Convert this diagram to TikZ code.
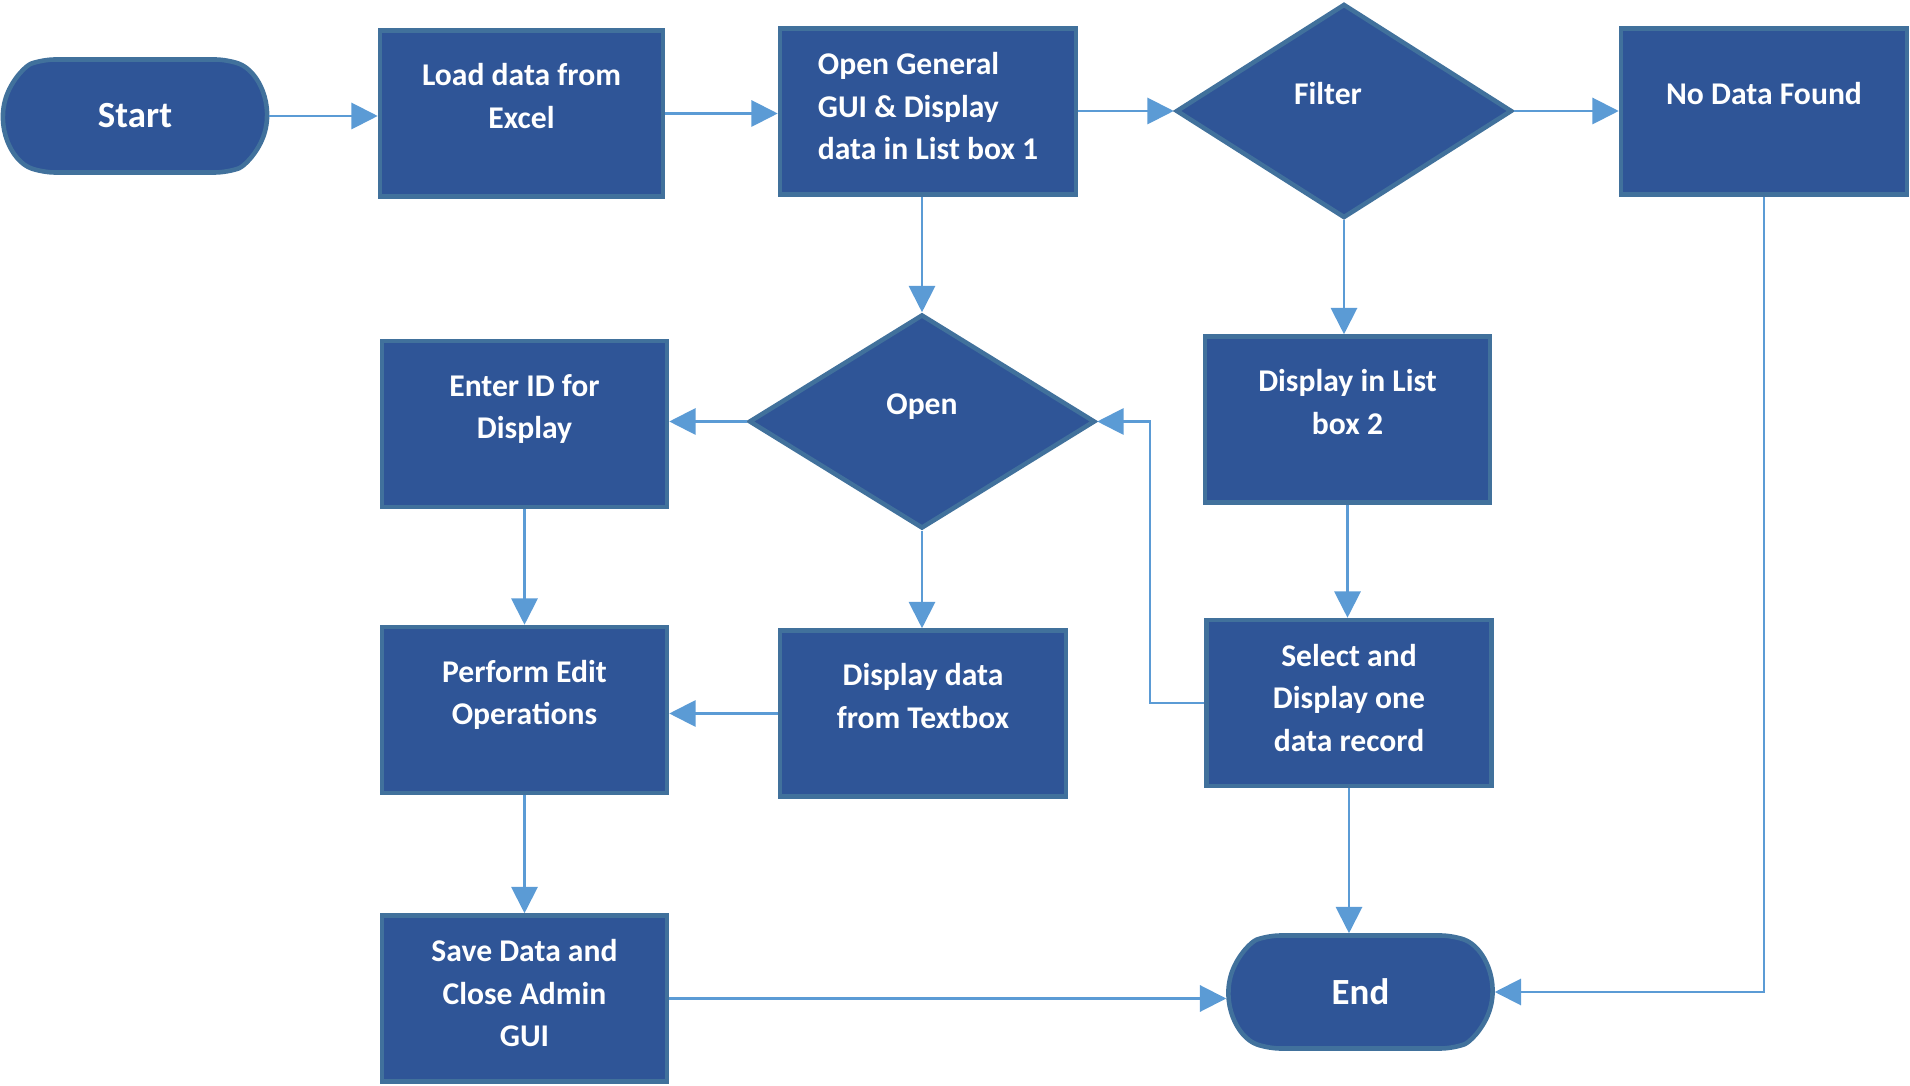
\documentclass[tikz,border=0pt]{standalone}
\usepackage{fontspec}
\setmainfont{Carlito}
\usetikzlibrary{shapes.geometric,shapes.misc,arrows.meta}
\definecolor{boxfill}{HTML}{2F5597}
\definecolor{boxline}{HTML}{41719C}
\definecolor{flowline}{HTML}{5B9BD5}

\begin{document}
\begin{tikzpicture}[
  box/.style={draw=boxline,fill=boxfill,line width=1.3pt,text=white,
    font=\fontsize{9}{12.1}\selectfont\bfseries,align=center,inner sep=2pt,
    minimum width=2.85cm,minimum height=1.66cm},
  decision/.style={box,diamond,minimum width=3.36cm,minimum height=2.14cm},
  terminal/.style={box,rounded rectangle,rounded rectangle arc length=140,
    rounded corners=0.12cm,font=\fontsize{10.5}{12}\selectfont\bfseries,
    minimum width=2.78cm,minimum height=1.13cm},
  flow/.style={draw=flowline,line width=0.6pt,-{Triangle[length=7.5pt,width=7.5pt]}}
]
  \useasboundingbox (0,0) rectangle (19.10,-10.86);

  % top row
  \node[terminal] (start) at (1.35,-1.16) {Start};
  \node[box,minimum width=2.83cm] (load) at (5.215,-1.135) {Load data from\\Excel\\[-0.2cm]\strut};
  \node[box,align=left,minimum width=2.96cm] (gui) at (9.28,-1.115) {Open General\\GUI \& Display\\data in List box 1\\[-0.45cm]\strut};
  \node[decision] (filter) at (13.44,-1.11) {Filter\hspace*{0.32cm}\\[-0.2cm]\strut};
  \node[box,minimum width=2.86cm] (nodata) at (17.64,-1.115) {No Data Found\\[-0.2cm]\strut};

  % middle rows
  \node[decision,minimum width=3.46cm] (open) at (9.22,-4.215) {Open\\[-0.2cm]\strut};
  \node[box] (enterid) at (5.245,-4.24) {Enter ID for\\Display\\[-0.2cm]\strut};
  \node[box] (list2) at (13.475,-4.195) {Display in List\\box 2\\[-0.2cm]\strut};
  \node[box] (edit) at (5.245,-7.10) {Perform Edit\\Operations\\[-0.2cm]\strut};
  \node[box,minimum width=2.86cm] (textbox) at (9.23,-7.135) {Display data\\from Textbox\\[-0.2cm]\strut};
  \node[box] (select) at (13.49,-7.03) {Select and\\Display one\\data record\\[-0.45cm]\strut};

  % bottom row
  \node[box] (save) at (5.245,-9.985) {Save Data and\\Close Admin\\GUI\\[-0.45cm]\strut};
  \node[terminal] (end) at (13.605,-9.92) {End};

  \draw[flow] (start.east) -- (start.east -| load.west);
  \draw[flow] (load.east) -- (load.east -| gui.west);
  \draw[flow] (filter.west -| gui.east) -- (filter.west);
  \draw[flow] (filter.east) -- (filter.east -| nodata.west);
  \draw[flow] (gui.south -| open.north) -- (open.north);
  \draw[flow] (filter.south) -- (filter.south |- list2.north);
  \draw[flow] (open.west) -- (open.west -| enterid.east);
  \draw[flow] (open.south) -- (open.south |- textbox.north);
  \draw[flow] (enterid.south) -- (edit.north);
  \draw[flow] (textbox.west) -- (textbox.west -| edit.east);
  \draw[flow] (edit.south) -- (save.north);
  \draw[flow] (save.east) -- (save.east -| end.west);
  \draw[flow] (list2.south) -- (list2.south |- select.north);
  \draw[flow] (select.west) -- ++(-0.54,0) |- (open.east);
  \draw[flow] (select.south) -- (select.south |- end.north);
  \draw[flow] (nodata.south) |- (end.east);
\end{tikzpicture}
\end{document}
